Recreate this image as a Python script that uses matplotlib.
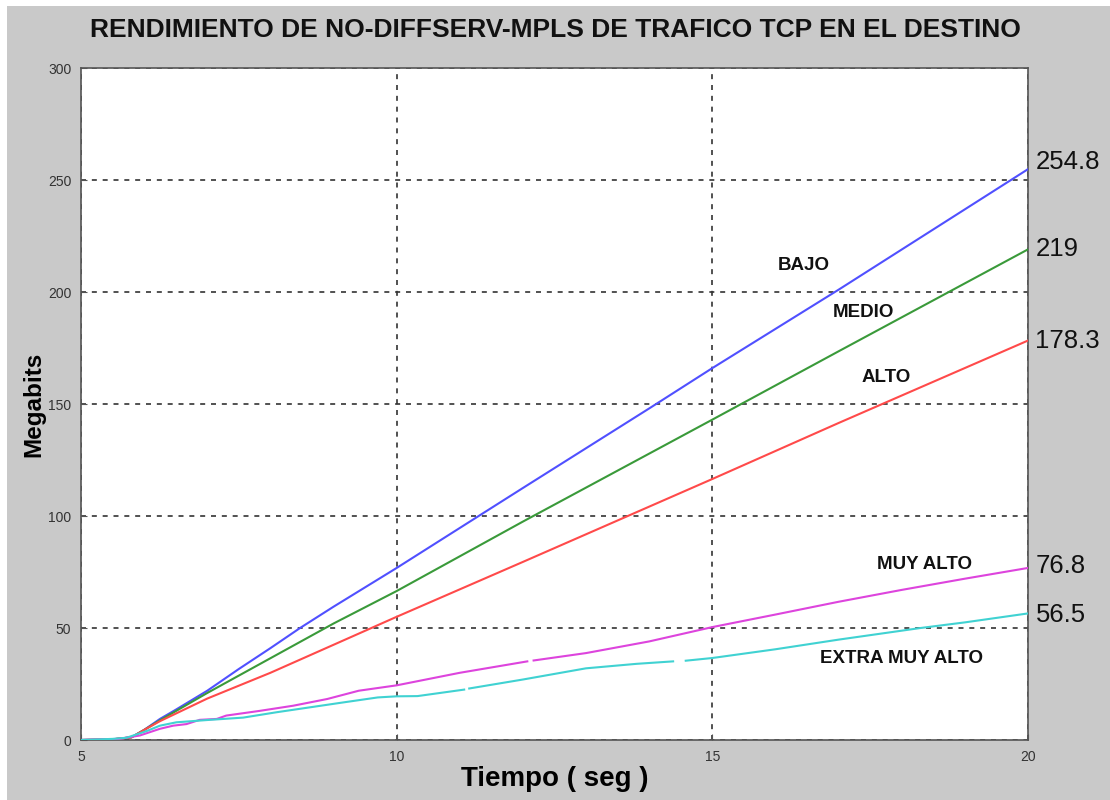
import matplotlib
matplotlib.use("Agg")
import matplotlib.pyplot as plt
import numpy as np
from matplotlib.patches import Rectangle

plt.rcParams["font.family"] = ["Liberation Sans", "DejaVu Sans"]

# series (NaN = gap in the trace)
bajo_x = [5, 5.5, 5.8, 6.0, 6.25, 6.5, 7.0, 7.5, 8.0, 8.47, 9.0, 10, 12, 14, 15, 17, 20]
bajo_y = [0, 0.3, 1.2, 4.5, 9.4, 13.5, 22, 31.7, 41, 50, 59.5, 76.8, 112.5, 148, 166, 201, 254.8]

medio_x = [5, 5.5, 5.8, 6.0, 6.25, 7.0, 8.0, 9.0, 10, 12, 15, 17, 20]
medio_y = [0, 0.3, 1.2, 4.5, 8.8, 21, 36.5, 52, 66.5, 97.5, 143, 173.5, 219]

alto_x = [5, 5.5, 5.8, 6.0, 6.25, 7.0, 8.0, 9.0, 10, 12, 15, 17, 20]
alto_y = [0, 0.3, 1.2, 4.5, 8.4, 18.5, 30, 42.5, 55, 79.5, 116.5, 141.5, 178.3]

muy_alto_x = [5, 5.6, 5.93, 6.25, 6.46, 6.67, 6.88, 7.15, 7.3, 7.83, 8.36, 8.9, 9.4,
              10, 11, 12.07, 12.08, 12.17, 13, 14, 15, 16, 17, 18, 19, 20]
muy_alto_y = [0, 0.5, 2, 5, 6.4, 7.1, 9, 9.4, 10.9, 13, 15.3, 18.3, 22,
              24.4, 30, 35.1, np.nan, 35.5, 38.8, 44, 50.4, 56, 61.7, 67, 72, 76.8]

extra_x = [5, 5.5, 5.72, 6.04, 6.25, 6.51, 7.04, 7.15, 7.57, 8.1, 8.63, 9.16, 9.7,
           10, 10.33, 11.07, 11.1, 11.15, 12, 13, 13.8, 14.38, 14.45, 14.58, 15,
           16, 17, 18.3, 19, 20]
extra_y = [0, 0.5, 1, 4, 6.4, 7.9, 9, 9.2, 10, 12.4, 14.6, 16.8, 19,
           19.5, 19.6, 22.5, np.nan, 23, 27, 32, 34, 35.1, np.nan, 35.4, 36.6,
           40.5, 44.8, 50, 52.5, 56.5]

series = [
    (bajo_x, bajo_y, "#5050ff", "BAJO", (16.45, 212), 254.8, (20.12, 258)),
    (medio_x, medio_y, "#3a9a3a", "MEDIO", (17.4, 191), 219, (20.12, 219)),
    (alto_x, alto_y, "#ff4a4a", "ALTO", (17.75, 162), 178.3, (20.12, 178.3)),
    (muy_alto_x, muy_alto_y, "#dd44dd", "MUY ALTO", (18.36, 78.5), 76.8, (20.12, 77.5)),
    (extra_x, extra_y, "#40d2d2", "EXTRA MUY ALTO", (18.0, 36.5), 56.5, (20.12, 56)),
]

fig = plt.figure(figsize=(11.1, 8.0), dpi=100)
fig.patch.set_facecolor("white")
fig.patches.append(Rectangle((0.006, 0.0), 0.994, 0.993, transform=fig.transFigure,
                             facecolor="#c9c9c9", edgecolor="none", zorder=-10))

ax = fig.add_axes([0.073, 0.075, 0.853, 0.840])
ax.set_facecolor("white")

for xs, ys, col, name, lpos, endval, vpos in series:
    ax.plot(xs, ys, color=col, lw=1.5, zorder=3)
    ax.text(lpos[0], lpos[1], name, fontsize=13.5, fontweight="bold",
            ha="center", va="center", color="#111111")
    ax.text(vpos[0], vpos[1], f"{endval:g}", fontsize=18.5, ha="left",
            va="center", color="#111111", clip_on=False)

ax.set_xlim(5, 20)
ax.set_ylim(0, 300)
ax.set_xticks([5, 10, 15, 20])
ax.set_yticks([0, 50, 100, 150, 200, 250, 300])
ax.grid(True, color="#333333", linestyle=(0, (3, 3.5)), linewidth=1.2)
ax.tick_params(direction="in", length=4, labelsize=10, labelcolor="#333333",
               color="#555555", pad=7)
for s in ax.spines.values():
    s.set_color("#555555")
    s.set_linewidth(1.2)

ax.set_xlabel("Tiempo ( seg )", fontsize=20, fontweight="bold", labelpad=2)
ax.set_ylabel("Megabits", fontsize=17.5, fontweight="bold", labelpad=1.5)
fig.text(0.5, 0.962, "RENDIMIENTO DE NO-DIFFSERV-MPLS DE TRAFICO TCP EN EL DESTINO",
         ha="center", va="center", fontsize=19, fontweight="bold", color="#111111")

fig.savefig("out.png", dpi=100, facecolor=fig.get_facecolor())
